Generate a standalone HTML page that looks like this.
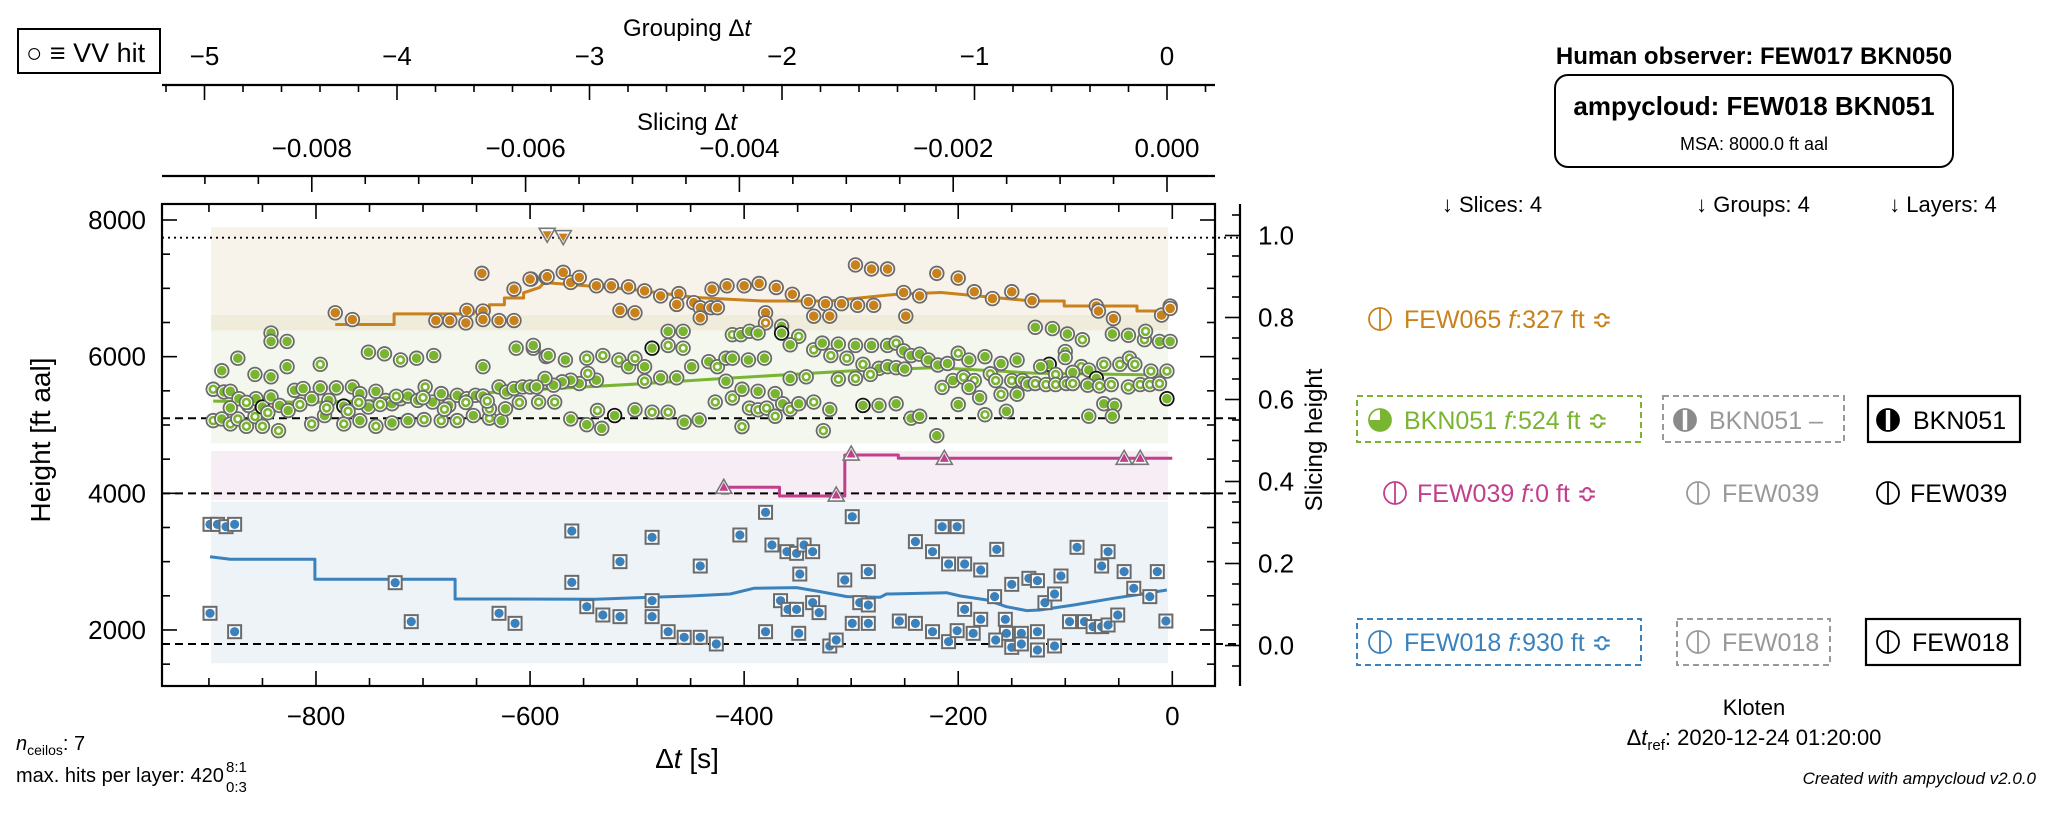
<!DOCTYPE html>
<html><head><meta charset="utf-8"><title>ampycloud diagnostic</title>
<style>
html,body{margin:0;padding:0;background:#fff;}
svg{display:block;font-family:"Liberation Sans","DejaVu Sans",sans-serif;}
</style></head>
<body>
<svg id="chart" xmlns="http://www.w3.org/2000/svg" width="2067" height="814" viewBox="0 0 2067 814">
<g id="bands"></g>
<g id="refs"></g>
<g id="lines"></g>
<g id="marks"></g>
<g id="axes"></g>
<g id="panel">
  <rect x="18" y="29" width="142" height="44" fill="#fff" stroke="#000" stroke-width="2"/>
  <text x="26" y="62" font-size="27">○ ≡ VV hit</text>
  <text x="1754" y="64" font-size="24" font-weight="bold" text-anchor="middle">Human observer:  FEW017 BKN050</text>
  <rect x="1555" y="75" width="398" height="92" rx="13" fill="#fff" stroke="#000" stroke-width="2"/>
  <text x="1754" y="115" font-size="26" font-weight="bold" text-anchor="middle">ampycloud:  FEW018 BKN051</text>
  <text x="1754" y="150" font-size="18" text-anchor="middle">MSA: 8000.0 ft aal</text>
  <text x="1492" y="212" font-size="22" text-anchor="middle">↓ Slices:  4</text>
  <text x="1753" y="212" font-size="22" text-anchor="middle">↓ Groups:  4</text>
  <text x="1943" y="212" font-size="22" text-anchor="middle">↓ Layers:  4</text>

  <rect x="1357" y="396" width="284" height="46" fill="none" stroke="#7ab532" stroke-width="2" stroke-dasharray="6,4"/>
  <rect x="1663" y="396" width="181" height="46" fill="none" stroke="#999" stroke-width="2" stroke-dasharray="6,4"/>
  <rect x="1868" y="396" width="152" height="46" fill="none" stroke="#000" stroke-width="2.2"/>
  <rect x="1357" y="619" width="284" height="46" fill="none" stroke="#3b82bd" stroke-width="2" stroke-dasharray="6,4"/>
  <rect x="1677" y="619" width="153" height="46" fill="none" stroke="#999" stroke-width="2" stroke-dasharray="6,4"/>
  <rect x="1866" y="619" width="154" height="46" fill="none" stroke="#000" stroke-width="2.2"/>

  <text x="1404" y="328" font-size="25" fill="#c8811b">FEW065 <tspan font-style="italic">f</tspan>:327 ft ≎</text>
  <text x="1404" y="429" font-size="25" fill="#7ab532">BKN051 <tspan font-style="italic">f</tspan>:524 ft ≎</text>
  <text x="1709" y="429" font-size="25" fill="#999">BKN051 –</text>
  <text x="1913" y="429" font-size="25" fill="#000">BKN051</text>
  <text x="1417" y="502" font-size="25" fill="#c23f8d">FEW039 <tspan font-style="italic">f</tspan>:0 ft ≎</text>
  <text x="1722" y="502" font-size="25" fill="#999">FEW039</text>
  <text x="1910" y="502" font-size="25" fill="#000">FEW039</text>
  <text x="1404" y="651" font-size="25" fill="#3b82bd">FEW018 <tspan font-style="italic">f</tspan>:930 ft ≎</text>
  <text x="1722" y="651" font-size="25" fill="#999">FEW018</text>
  <text x="1912" y="651" font-size="25" fill="#000">FEW018</text>

  <text x="1754" y="715" font-size="22" text-anchor="middle">Kloten</text>
  <text x="1754" y="745" font-size="22" text-anchor="middle">Δ<tspan font-style="italic">t</tspan><tspan font-size="15" dy="5">ref</tspan><tspan dy="-5">: 2020-12-24 01:20:00</tspan></text>
  <text x="2036" y="784" font-size="17" font-style="italic" text-anchor="end">Created with ampycloud v2.0.0</text>
  <text x="16" y="750" font-size="20"><tspan font-style="italic">n</tspan><tspan font-size="14" dy="5">ceilos</tspan><tspan dy="-5">: 7</tspan></text>
  <text x="16" y="782" font-size="20">max. hits per layer: 420</text>
  <text x="226" y="772" font-size="15">8:1</text>
  <text x="226" y="792" font-size="15">0:3</text>
</g>
<g id="icons"></g>
</svg>
<script>
// ---------- data ----------
const yTicks = [2000, 4000, 6000, 8000];
const xTicks = [-800, -600, -400, -200, 0];
const sTicks = [0.0, 0.2, 0.4, 0.6, 0.8, 1.0];
const groupTicks = [-5, -4, -3, -2, -1, 0];
const slicingTicks = [-0.008, -0.006, -0.004, -0.002, 0.0];
const slicingLabels = ["\u22120.008", "\u22120.006", "\u22120.004", "\u22120.002", "0.000"];
const refHeights = [5098, 4000, 1795];
const msaLineHeight = 7741;
const bandNames = ["orange", "olive", "green", "pink", "blue"];
const bandTop = [7892, 6609, 6380, 4619, 3878];
const bandBottom = [6609, 6380, 4731, 3902, 1512];
const bandColors = ["#f7f2ea", "#efecdb", "#f4f7ee", "#f6eef4", "#eef3f8"];
const bandStart = -898, bandEnd = -4;

const greenLineT = [-896, -800, -720, -660, -603, -500, -420, -290, -220, -130, 0];
const greenLineH = [5350, 5330, 5370, 5450, 5510, 5600, 5680, 5800, 5840, 5760, 5730];
const orangeLineT = [-782,-727,-727,-653,-653,-638,-638,-624,-624,-606,-606,-591,-587,-508,-445,-383,-320,-257,-216,-131,-101,-101,-33,-33,0];
const orangeLineH = [6471,6471,6626,6626,6655,6655,6761,6761,6858,6858,6935,7013,7086,6988,6866,6815,6815,6914,6939,6815,6815,6741,6741,6668,6668];
const pinkLineT = [-419, -367, -367, -306, -306, -256, -256, 0];
const pinkLineH = [4088, 4088, 3961, 3961, 4561, 4561, 4512, 4512];
const blueLineT = [-899,-880,-801,-801,-670,-670,-622,-539,-500,-451,-413,-391,-351,-329,-304,-273,-267,-211,-198,-173,-155,-136,-124,-92,-55,-24,-5];
const blueLineH = [3073,3034,3034,2741,2741,2453,2453,2449,2473,2497,2527,2610,2620,2561,2488,2478,2527,2546,2497,2439,2341,2283,2293,2366,2463,2537,2585];

const pinkHitT = [-419, -314, -300, -213, -45, -30];
const pinkHitH = [4088, 3975, 4575, 4512, 4512, 4512];
const orangeVVT = [-584, -569];
const orangeVVH = [7776, 7742];

// [t, height, kind] kind: 0 filled, 1 hollow, 2 dark ring
const orangeHits = [[-782,6642,0],[-766,6543,0],[-645,7219,0],[-688,6529,0],[-675,6529,0],[-659,6677,0],[-660,6494,0],[-644,6667,0],[-644,6543,0],[-629,6529,0],[-615,6529,0],[-615,6987,0],[-599,7135,0],[-585,7160,0],
[-600,7135,0],[-584,7170,0],[-569,7234,0],[-562,7086,0],[-554,7160,0],[-538,7037,0],[-524,7037,0],[-508,7022,0],[-493,6963,0],[-478,6889,0],[-461,6923,0],[-463,6765,0],[-447,6790,0],[-441,6716,0],[-441,6568,0],[-431,6716,0],[-425,6716,0],[-430,6987,0],[-416,7037,0],[-400,7037,0],[-386,7071,0],[-370,7012,0],[-355,6913,0],[-380,6642,0],[-380,6494,1],[-340,6805,0],[-335,6593,0],[-324,6775,0],[-320,6593,0],[-309,6775,0],[-296,7342,0],[-281,7283,0],[-266,7283,0],[-294,6751,0],[-279,6751,0],[-251,6938,0],[-236,6889,0],[-249,6593,0],[-220,7219,0],[-516,6677,0],[-502,6642,0],
[-200,7150,0],[-185,6950,0],[-168,6850,0],[-150,6950,0],[-131,6820,0],[-71,6741,0],[-69,6667,0],[-55,6558,0],[-10,6608,0],[-2,6741,0],[-2,6706,0]];

const greenHits = [[-896,5523,1],[-888,5794,0],[-873,5977,0],[-857,5740,0],[-842,5705,0],[-842,6346,0],[-842,6223,0],[-827,6223,0],[-827,5853,0],[-796,5888,1],[-751,6065,0],[-736,6041,0],[-721,5952,1],[-706,5977,0],[-690,6016,0],[-644,5853,0],[-613,6124,0],[-597,6124,0],[-585,6001,0],
[-896,5064,1],[-888,5089,0],[-880,5015,1],[-873,5089,1],[-865,4981,1],[-857,5124,1],[-850,4981,1],[-835,4917,1],[-804,5015,1],[-792,5138,0],[-774,5015,1],[-759,5064,0],[-744,4981,1],[-729,5030,0],[-714,5064,0],[-699,5079,1],[-683,5064,1],[-668,5064,1],[-653,5138,0],[-638,5099,1],[-627,5064,0],[-623,5237,0],
[-886,5483,0],[-880,5493,0],[-872,5385,0],[-863,5286,0],[-856,5385,0],[-850,5262,2],[-842,5410,0],[-834,5286,0],[-826,5212,0],[-820,5508,0],[-812,5533,0],[-804,5385,0],[-796,5543,0],[-788,5360,0],[-781,5543,0],[-774,5276,2],[-766,5557,0],[-759,5459,0],[-751,5262,0],[-744,5493,0],[-735,5360,0],[-729,5311,0],[-721,5385,0],[-714,5424,0],[-705,5360,0],[-698,5557,1],[-691,5336,0],[-683,5459,0],[-676,5286,0],[-668,5434,0],[-659,5385,0],[-651,5434,0],[-644,5424,0],[-638,5237,1],[-629,5557,0],[-622,5483,0],[-615,5533,0],[-607,5557,0],[-600,5557,0],[-592,5336,1],[-585,5631,0],
[-880,5250,0],[-865,5330,1],[-845,5180,1],[-815,5300,1],[-790,5250,1],[-770,5200,1],[-760,5330,1],[-740,5300,1],[-725,5420,1],[-700,5400,1],[-680,5230,1],[-660,5330,1],[-640,5350,1],[-610,5330,1],
[-597,6164,0],[-583,6016,0],[-567,5952,0],[-547,5977,1],[-532,6016,1],[-517,5952,1],[-508,5853,0],[-502,5977,1],[-493,5853,0],[-471,6371,0],[-457,6371,0],[-471,6164,1],[-457,6124,1],[-486,6124,2],[-449,5853,0],[-433,5927,0],[-425,5853,1],[-417,5977,0],[-411,5977,0],[-396,5952,0],[-381,5977,0],[-411,6322,1],[-403,6322,0],[-395,6371,0],[-387,6346,0],[-365,6445,0],[-365,6346,2],[-349,6297,1],[-357,6174,0],[-335,6100,1],[-327,6198,0],[-319,6016,1],[-312,6184,0],[-304,5977,1],[-296,6164,0],[-289,5888,1],[-281,6164,0],[-266,6164,0],[-258,6198,1],[-251,6085,0],[-244,6016,0],[-236,6036,0],[-228,5952,0],[-219,5878,0],[-274,5829,0],[-266,5853,0],[-258,5839,0],[-250,5819,0],[-282,5740,1],[-296,5681,1],[-312,5671,1],[-342,5705,1],[-417,5641,0],[-463,5691,0],[-478,5691,0],[-493,5641,1],[-538,5656,0],[-546,5755,1],[-554,5607,0],[-562,5656,0],[-570,5631,0],[-578,5582,0],[-586,5681,0],[-594,5557,0],
[-577,5336,1],[-562,5089,0],[-547,5005,0],[-533,4951,0],[-537,5212,1],[-521,5138,2],[-502,5222,0],[-486,5188,1],[-471,5188,1],[-456,5040,0],[-442,5074,0],[-427,5336,1],[-411,5395,1],[-402,5523,0],[-387,5493,0],[-371,5459,0],[-357,5681,0],[-395,5247,1],[-387,5222,1],[-379,5247,1],[-371,5128,1],[-364,5311,0],[-357,5227,1],[-349,5311,0],[-335,5336,1],[-320,5227,0],[-326,4917,1],[-402,4976,1],[-289,5286,2],[-274,5286,0],[-258,5311,0],[-244,5099,0],[-236,5128,0],[-220,4843,0],
[-210,5900,0],[-205,5650,0],[-200,6050,1],[-195,5700,1],[-190,5950,0],[-185,5650,1],[-180,5400,0],[-175,6000,0],[-170,5750,1],[-165,5650,1],[-160,5900,0],[-155,5200,0],[-150,5650,1],[-145,5950,0],[-140,5650,1],[-135,5600,0],[-200,5300,0],[-175,5150,1],[-160,5450,1],[-215,5550,1],[-190,5550,0],[-145,5450,0],
[-128,6430,0],[-112,6411,0],[-98,6332,0],[-84,6248,1],[-100,6075,1],[-100,5987,0],[-115,5888,2],[-123,5854,0],[-85,5854,1],[-78,5804,0],[-64,5888,1],[-49,5888,1],[-40,5977,1],[-35,5888,1],[-20,5789,1],[-5,5789,1],[-56,6332,0],[-41,6312,0],[-26,6248,1],[-25,6371,1],[-12,6223,0],[-2,6223,0],[-71,5681,2],[-93,5770,0],[-109,5740,1],[-128,5607,1],[-118,5592,1],[-109,5592,1],[-99,5607,1],[-93,5607,1],[-79,5582,0],[-68,5572,1],[-57,5592,1],[-41,5557,1],[-30,5592,1],[-21,5592,1],[-12,5607,1],[-5,5385,2],[-64,5311,0],[-54,5287,0],[-78,5129,0],[-56,5129,0]];

const blueHitT = [-899,-892,-884,-876,-899,-876,-726,-711,-629,-614,-561,-561,-547,-532,-516,-516,-486,-486,-486,-471,-456,
-441,-426,-441,-404,-380,-374,-360,-351,-344,-336,-348,-366,-359,-351,-336,-330,-380,-349,-320,-314,-299,-306,-284,-292,-284,-299,-284,-255,-240,-240,-224,-215,-201,-209,-194,-179,-164,-224,-209,-201,-194,-186,-179,-166,-150,-156,-155,-165,-150,-141,-141,-134,-126,-126,-126,-119,-110,-110,-104,-89,-96,-82,-74,-66,-60,-51,-66,-60,-45,-36,-21,-14,-6];
const blueHitH = [3546,3546,3512,3546,2244,1975,2692,2122,2244,2097,3449,2697,2341,2219,3000,2195,3356,2429,2195,1975,1893,
1893,1795,2936,3390,3722,3244,3146,3122,3244,3146,2819,2429,2302,2302,2400,2254,1975,1951,1766,1853,3658,2732,2854,2400,2366,2097,2097,2131,2097,3293,3146,3512,3512,2966,2966,2878,3180,1975,1829,1990,2302,1951,2156,2488,2668,2156,1951,1853,1746,1951,1795,2756,2722,1975,1707,2400,2527,1766,2790,3210,2122,2122,2049,2049,2073,2219,2936,3146,2854,2610,2488,2854,2131];

// ---------- scales ----------
const X0 = 162, X1 = 1215, Y0 = 204, Y1 = 686, RSP = 1240;
const xA = t => 1172.3 + 1.0704 * t;
const yA = h => 220 + (8000 - h) * 0.06833;
const sA = v => 235.5 + (1 - v) * 410;
const gA = g => 1167 + 192.5 * g;
const slA = s => 1167 + s * 106900;

const NS = "http://www.w3.org/2000/svg";
function mk(tag, attrs, parent) {
  const e = document.createElementNS(NS, tag);
  for (const k in attrs) e.setAttribute(k, attrs[k]);
  parent.appendChild(e);
  return e;
}
const bands = document.getElementById('bands');
const refs = document.getElementById('refs');
const lines = document.getElementById('lines');
const marks = document.getElementById('marks');
const axes = document.getElementById('axes');
const icons = document.getElementById('icons');

bandNames.forEach((n, i) => {
  const r = mk('rect', {x: xA(bandStart), y: yA(bandTop[i]), width: xA(bandEnd) - xA(bandStart), height: yA(bandBottom[i]) - yA(bandTop[i]), fill: bandColors[i]}, bands);
  
  
});
refHeights.forEach(h => {
  const l = mk('line', {x1: X0, x2: RSP, y1: yA(h), y2: yA(h), stroke: '#000', 'stroke-width': 2, 'stroke-dasharray': '8,5'}, refs);
  
  
});
{
  const l = mk('line', {x1: X0, x2: RSP, y1: yA(msaLineHeight), y2: yA(msaLineHeight), stroke: '#000', 'stroke-width': 1.8, 'stroke-dasharray': '2,4'}, refs);
  
  
}

function poly(T, H, color, name) {
  const p = mk('polyline', {points: T.map((t, i) => xA(t).toFixed(1) + ',' + yA(H[i]).toFixed(1)).join(' '), fill: 'none', stroke: color, 'stroke-width': 3, 'stroke-linejoin': 'round'}, lines);
  
  
}
poly(greenLineT, greenLineH, '#7ab532', 'green-layer-line');
poly(orangeLineT, orangeLineH, '#c8811b', 'orange-layer-line');
poly(pinkLineT, pinkLineH, '#c23f8d', 'pink-layer-line');
poly(blueLineT, blueLineH, '#3b82bd', 'blue-layer-line');

function circ(t, h, kind, color, name) {
  const x = xA(t), y = yA(h);
  const g = mk('g', {}, marks);
  
  
  mk('circle', {cx: x, cy: y, r: 6.8, fill: '#fff', stroke: kind === 2 ? '#111' : '#6a6a6a', 'stroke-width': 1.8}, g);
  if (kind === 1) mk('circle', {cx: x, cy: y, r: 3.5, fill: '#fff', stroke: color, 'stroke-width': 2.6}, g);
  else mk('circle', {cx: x, cy: y, r: 4.8, fill: color}, g);
}
orangeHits.forEach(p => circ(p[0], p[1], p[2], '#c8811b', 'orange-hit'));
greenHits.forEach(p => circ(p[0], p[1], p[2], '#7ab532', 'green-hit'));
blueHitT.forEach((t, i) => {
  const x = xA(t), y = yA(blueHitH[i]);
  const g = mk('g', {}, marks);
  
  
  mk('rect', {x: x - 6.5, y: y - 6.5, width: 13, height: 13, fill: '#fff', stroke: '#6a6a6a', 'stroke-width': 2}, g);
  mk('circle', {cx: x, cy: y, r: 4.6, fill: '#3b82bd'}, g);
});
pinkHitT.forEach((t, i) => {
  const x = xA(t), y = yA(pinkHitH[i]);
  const g = mk('g', {}, marks);
  
  
  mk('polygon', {points: `${x},${y-8} ${x-8},${y+6} ${x+8},${y+6}`, fill: '#fff', stroke: '#777', 'stroke-width': 1.6}, g);
  mk('polygon', {points: `${x},${y-5} ${x-4.5},${y+3.5} ${x+4.5},${y+3.5}`, fill: '#c23f8d'}, g);
});
orangeVVT.forEach((t, i) => {
  const x = xA(t), y = yA(orangeVVH[i]);
  const g = mk('g', {}, marks);
  
  
  mk('polygon', {points: `${x-8},${y-7} ${x+8},${y-7} ${x},${y+7}`, fill: '#fff', stroke: '#777', 'stroke-width': 1.6}, g);
  mk('polygon', {points: `${x-4.5},${y-4} ${x+4.5},${y-4} ${x},${y+4}`, fill: '#c8811b'}, g);
});

function ln(x1, y1, x2, y2, w, name) {
  const l = mk('line', {x1, y1, x2, y2, stroke: '#000', 'stroke-width': w}, axes);
  
  
  return l;
}
function tx(x, y, s, size, anchor, name) {
  const t = mk('text', {x, y, 'font-size': size, 'text-anchor': anchor}, axes);
  t.textContent = s;
  
  
  return t;
}
{
  const f = mk('rect', {x: X0, y: Y0, width: X1 - X0, height: Y1 - Y0, fill: 'none', stroke: '#000', 'stroke-width': 2.2}, axes);
  
  
}
for (let t = -900; t <= 0; t += 50) {
  const major = t % 200 === 0;
  const L = major ? 15 : 8;
  ln(xA(t), Y1, xA(t), Y1 - L, 1.6, 'x-tick');
  ln(xA(t), Y0, xA(t), Y0 + L, 1.6, 'x-tick-top');
}
xTicks.forEach(t => tx(xA(t), 725, (t < 0 ? '\u2212' : '') + Math.abs(t), 26, 'middle', 'x-tick-label'));
for (let h = 1500; h <= 8000; h += 500) {
  const major = h % 2000 === 0;
  const L = major ? 15 : 8;
  ln(X0, yA(h), X0 + L, yA(h), 1.6, 'y-tick');
  ln(X1, yA(h), X1 - L, yA(h), 1.6, 'y-tick-right');
}
yTicks.forEach(h => tx(146, yA(h) + 9, String(h), 26, 'end', 'y-tick-label'));
{
  const t = tx(687, 768, '', 28, 'middle', 'x-axis-title');
  t.innerHTML = 'Δ<tspan font-style="italic">t</tspan> [s]';
  const y = tx(0, 0, 'Height [ft aal]', 28, 'middle', 'y-axis-title');
  y.setAttribute('transform', 'translate(50,440) rotate(-90)');
}
ln(RSP, Y0, RSP, Y1, 2.2, 'slicing-height-spine');
for (let k = -2; k <= 21; k++) {
  const v = k * 0.05;
  const y = sA(v);
  if (y < Y0 || y > Y1) continue;
  const major = k % 4 === 0;
  ln(RSP, y, RSP - (major ? 15 : 8), y, 1.6, 'slicing-height-tick');
}
sTicks.forEach(v => tx(1258, sA(v) + 9, v.toFixed(1), 26, 'start', 'slicing-height-tick-label'));
{
  const y = tx(0, 0, 'Slicing height', 24, 'middle', 'slicing-height-title');
  y.setAttribute('transform', 'translate(1322,440) rotate(-90)');
}
ln(X0, 176, X1, 176, 2.2, 'slicing-dt-axis');
for (let k = -18; k <= 1; k++) {
  const s = k * 0.0005;
  const x = slA(s);
  if (x < X0 || x > X1) continue;
  ln(x, 176, x, 176 + (k % 4 === 0 ? 16 : 8), 1.6, 'slicing-dt-tick');
}
slicingTicks.forEach((s, i) => tx(slA(s), 157, slicingLabels[i], 26, 'middle', 'slicing-dt-tick-label'));
{
  const t = tx(687, 130, '', 24, 'middle', 'slicing-dt-title');
  t.innerHTML = 'Slicing Δ<tspan font-style="italic">t</tspan>';
}
ln(X0, 85, X1, 85, 2.2, 'grouping-dt-axis');
for (let k = -26; k <= 1; k++) {
  const g = k * 0.2;
  const x = gA(g);
  if (x < X0 || x > X1) continue;
  ln(x, 85, x, 85 + (k % 5 === 0 ? 15 : 7), 1.6, 'grouping-dt-tick');
}
groupTicks.forEach(g => tx(gA(g), 65, (g < 0 ? '\u2212' : '') + Math.abs(g), 26, 'middle', 'grouping-dt-tick-label'));
{
  const t = tx(687, 36, '', 24, 'middle', 'grouping-dt-title');
  t.innerHTML = 'Grouping Δ<tspan font-style="italic">t</tspan>';
}

function iconGroup(name) {
  const g = mk('g', {}, icons);
  
  
  return g;
}
function few(cx, cy, color, name) {
  const g = iconGroup(name);
  mk('circle', {cx, cy, r: 11, fill: '#fff', stroke: color, 'stroke-width': 1.8}, g);
  mk('line', {x1: cx, x2: cx, y1: cy - 11, y2: cy + 11, stroke: color, 'stroke-width': 1.8}, g);
}
function bkn(cx, cy, color, name) {
  const g = iconGroup(name);
  const r = 11;
  mk('circle', {cx, cy, r, fill: color}, g);
  mk('path', {d: `M${cx},${cy} L${cx},${cy - r} A${r},${r} 0 0 0 ${cx - r},${cy} Z`, fill: '#fff'}, g);
  mk('circle', {cx, cy, r, fill: 'none', stroke: color, 'stroke-width': 1.8}, g);
}
function okta7(cx, cy, color, name) {
  const g = iconGroup(name);
  const r = 11;
  mk('circle', {cx, cy, r, fill: color}, g);
  mk('rect', {x: cx - 2.2, y: cy - r + 1, width: 4.4, height: 2 * r - 2, fill: '#fff'}, g);
  mk('circle', {cx, cy, r, fill: 'none', stroke: color, 'stroke-width': 1.8}, g);
}
few(1380, 319, '#c8811b', 'few065-icon');
bkn(1380, 420, '#7ab532', 'slice-bkn051-icon');
okta7(1685, 420, '#8a8a8a', 'group-bkn051-icon');
okta7(1888, 420, '#000', 'layer-bkn051-icon');
few(1395, 493, '#c23f8d', 'slice-few039-icon');
few(1698, 493, '#999', 'group-few039-icon');
few(1888, 493, '#000', 'layer-few039-icon');
few(1380, 642, '#3b82bd', 'slice-few018-icon');
few(1698, 642, '#999', 'group-few018-icon');
few(1888, 642, '#000', 'layer-few018-icon');
</script>
</body></html>
